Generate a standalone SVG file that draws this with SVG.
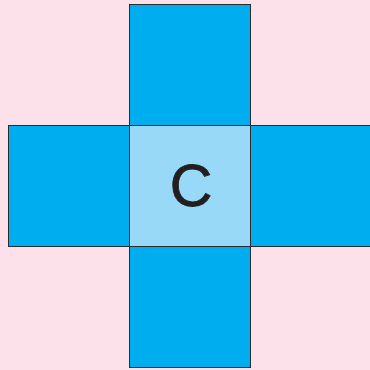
<svg xmlns="http://www.w3.org/2000/svg" width="370" height="370" viewBox="0 0 370 370">
<style>
.sq{fill:#00aeef;stroke:#2b2b2b;stroke-width:1}
.ctr{fill:#97d9f7;stroke:#2b2b2b;stroke-width:1}
.lbl{font-family:"Liberation Sans",Arial,sans-serif;font-size:59px;fill:#231f20;text-anchor:middle;stroke:#231f20;stroke-width:0.9}
</style>
<rect width="370" height="370" fill="#fce0ea"/>
<g id="top"><rect class="sq" x="129.5" y="4.5" width="121" height="121"/></g>
<g id="left"><rect class="sq" x="8.5" y="125.5" width="121" height="121"/></g>
<g id="right"><rect class="sq" x="250.5" y="125.5" width="121" height="121"/></g>
<g id="bottom"><rect class="sq" x="129.5" y="246.5" width="121" height="121"/></g>
<g id="center"><rect class="ctr" x="129.5" y="125.5" width="121" height="121"/><text class="lbl" x="191" y="205.5">C</text></g>
<g id="connectors"/>
</svg>
